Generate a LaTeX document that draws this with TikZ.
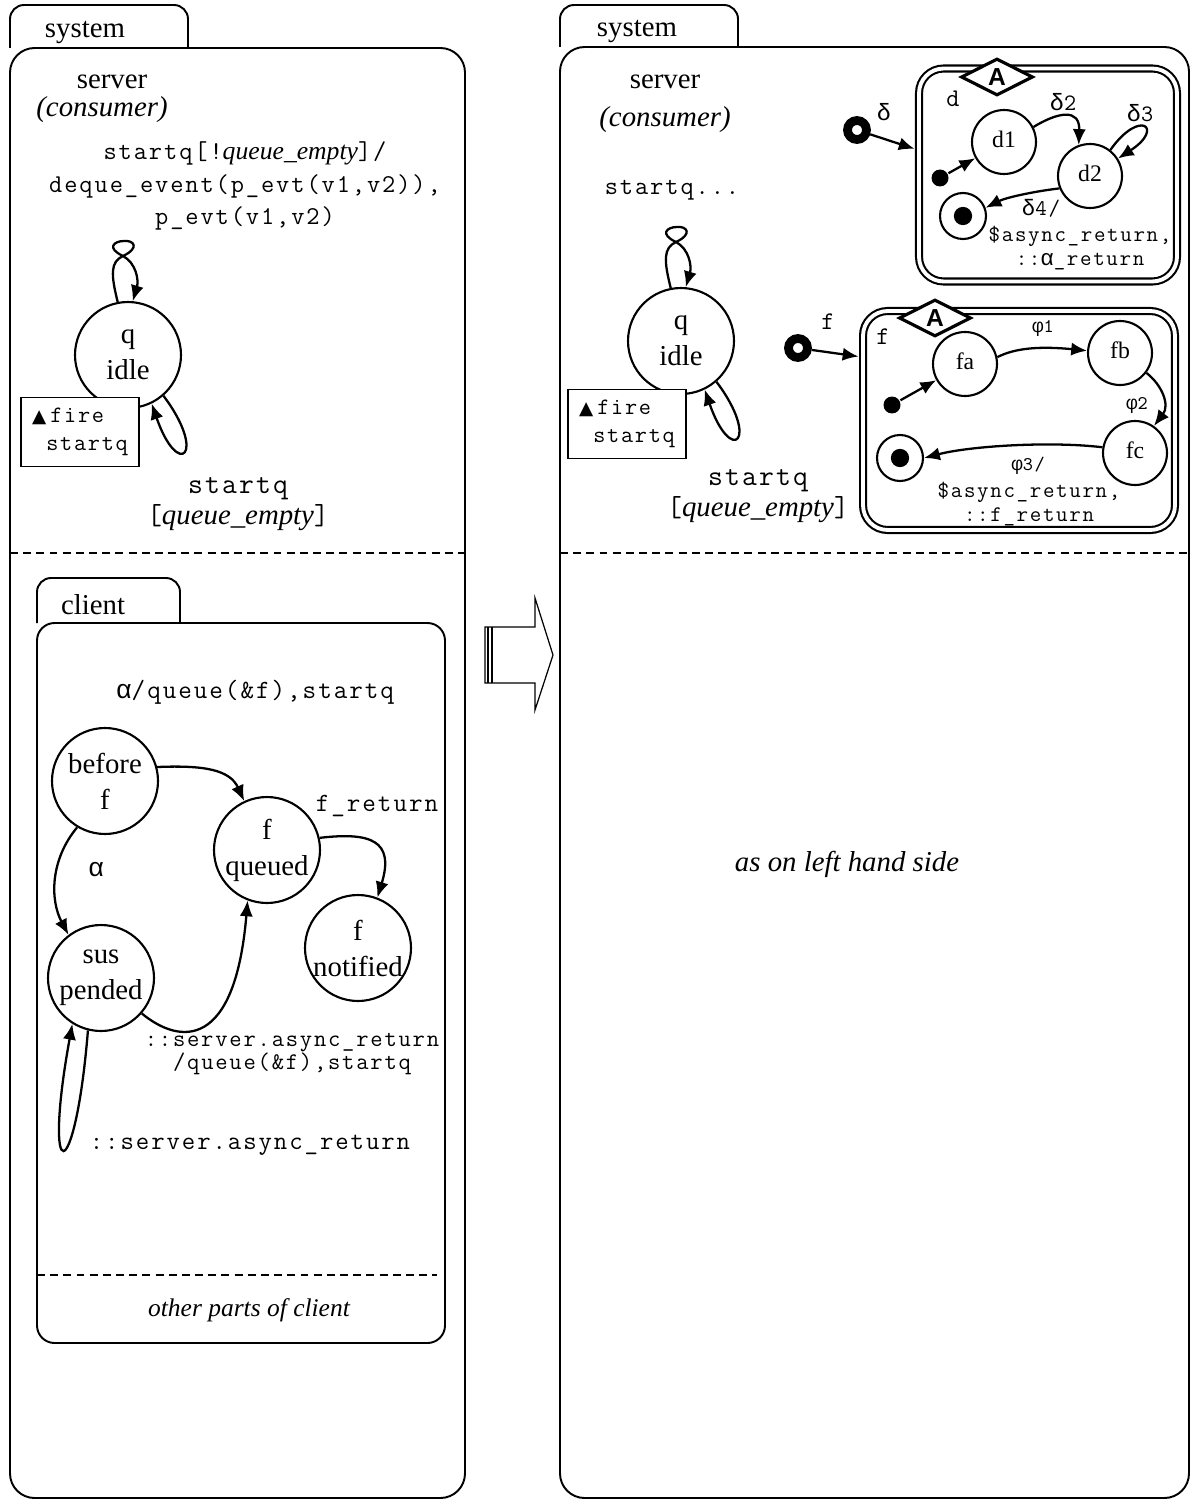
\documentclass[tikz,border=0pt]{standalone}
\usepackage{fontspec}
\setmainfont{Liberation Serif}
\setsansfont{Liberation Sans}
\setmonofont{Latin Modern Mono}[LetterSpace=7.5]
\newfontfamily\symfont{DejaVu Sans}
\newfontfamily\grkmono{Liberation Mono}
\usetikzlibrary{arrows.meta,calc,positioning,shapes.geometric}
\newcommand{\fsz}[2]{\fontsize{#1}{#2}\selectfont}
\newcommand{\uptri}{{\symfont\fsz{10.5}{10.5}▲}}
\newcommand{\guard}[1]{{\rmfamily\itshape #1}}
\newcommand{\gk}[1]{{\grkmono #1}}
\tikzset{>={Latex[length=9pt,width=7.5pt]},
  every node/.style={font=\fsz{16.4}{20.5}},
  frame/.style={draw,line width=1.1pt,rounded corners=14pt},
  tabframe/.style={draw,line width=1.1pt,rounded corners=8pt},
  sep/.style={draw,dash pattern=on 4.5pt off 3pt,line width=.9pt},
  st/.style={circle,draw,line width=1.2pt,minimum size=2.12cm,inner sep=0pt,align=center},
  sst/.style={circle,draw,line width=1.2pt,minimum size=1.28cm,inner sep=0pt,text depth=3pt,font=\fsz{13.5}{15}},
  initdot/.style={circle,fill,minimum size=.34cm,inner sep=0pt},
  finalst/.style={circle,draw,line width=1.2pt,minimum size=.92cm,inner sep=0pt,
    path picture={\fill (path picture bounding box.center) circle (5.2pt);}},
  entryring/.style={circle,draw,line width=5pt,minimum size=.38cm,inner sep=0pt},
  region/.style={draw,double,line width=1.2pt,double distance=2.2pt,rounded corners=14pt,inner sep=0pt},
  tagA/.style={diamond,draw,fill=white,line width=1.8pt,minimum width=1.44cm,
    minimum height=.74cm,inner sep=0pt,font=\sffamily\bfseries\fsz{14}{14}},
  firebox/.style={draw,fill=white,line width=1.1pt,minimum width=2.36cm,minimum height=1.38cm,
    align=left,font=\ttfamily\fsz{13.4}{16}},
  code/.style={font=\ttfamily\fsz{14.6}{18.7},align=center},
  bigcode/.style={font=\ttfamily\fsz{16.4}{18},align=center},
  ccode/.style={font=\ttfamily\fsz{15}{18},align=center},
  scode/.style={font=\ttfamily\fsz{13.6}{13.6},align=center},
  tcode/.style={font=\ttfamily\fsz{12.7}{13.6},align=center},
  phicode/.style={font=\ttfamily\fsz{11}{12},align=center},
  hollow/.style={draw,line width=.7pt}}

\begin{document}
\begin{tikzpicture}[x=0.02cm,y=-0.02cm,line width=1.3pt]
\useasboundingbox (0,0) rectangle (1191,1500);
% left: system
\draw[tabframe] (10,48) -- (10,5) -- (188,5) -- (188,48);
\draw[frame] (10,48) rectangle (465,1498);
\draw[sep] (10,553) -- (465,553);
\node (sysL) at (85,33) {system};
\node (srvL) at (112,82) {server};
\node (consL) at (102,110) {\itshape (consumer)};
\node[code] (trL) at (245,186) {startq[!\guard{queue\_empty}]/\\deque\_event(p\_evt(v1,v2)),\\p\_evt(v1,v2)};
\node[st] (qL) at (128,355) {q\\idle};
\node[firebox] (fireL) at (80,432) {\uptri\,fire\\\hspace*{.6em}startq};
\node[bigcode] (emptyL) at (238,504) {startq\\{[}\guard{queue\_empty}{]}};

% left: client
\draw[tabframe] (37,623) -- (37,578) -- (180,578) -- (180,623);
\draw[frame,rounded corners=10pt] (37,623) rectangle (445,1343);
\draw[sep] (37,1275) -- (437,1275);
\node (client) at (93,605) {client};
\node (other) at (249,1310) {\fsz{14.5}{17}\itshape other parts of client};
\node[st] (bf) at (105,781) {before\\f};
\node[st] (fq) at (267,850) {f\\queued};
\node[st] (fn) at (358,948) {f\\notified};
\node[st] (sp) at (101,978) {sus\\pended};
\draw[->] (bf.15) .. controls (205,765) and (230,770) .. (fq.115);
\draw[->] (bf.-121) .. controls (50,860) and (50,900) .. (sp.127);
\draw[->] (sp.-41) .. controls (180,1045) and (235,1050) .. (fq.-111);
\draw[->] (fq.13) .. controls (370,832) and (395,840) .. (fn.69);
\draw[->] (sp.-104) .. controls (75,1190) and (42,1190) .. (sp.-122);
\node[ccode] (lq) at (255,692) {\gk{α}/queue(\&f),startq};
\node[ccode] (la) at (96,870) {\gk{α}};
\node[ccode] (lret) at (377,806) {f\_return};
\node[scode] (lsq) at (292,1054) {::server.async\_return\\/queue(\&f),startq};
\node[ccode,font=\ttfamily\fsz{14.8}{18}] (lsr) at (250,1145) {::server.async\_return};

% transformation arrow
\draw[hollow] (485,627) -- (535,627) -- (535,598) -- (553,655) -- (535,710)
  -- (535,683) -- (485,683) -- cycle;
\draw[hollow] (488,627) -- (488,683) (492,627) -- (492,683);

% right: system
\draw[tabframe] (560,47) -- (560,5) -- (738,5) -- (738,47);
\draw[frame] (560,47) rectangle (1189,1498);
\draw[sep] (560,553) -- (1189,553);
\node (sysR) at (637,32) {system};
\node (srvR) at (665,82) {server};
\node (consR) at (665,120) {\itshape (consumer)};
\node[code] (trR) at (672,190) {startq...};
\node[st] (qR) at (681,341) {q\\idle};
\node[firebox] (fireR) at (627,424) {\uptri\,fire\\\hspace*{.6em}startq};
\node[bigcode] (emptyR) at (758,496) {startq\\{[}\guard{queue\_empty}{]}};
\node (same) at (847,864) {\itshape as on left hand side};

\foreach \q in {qL,qR}{
\draw[->] (\q.101) .. controls ($(\q)+(-17,-80)$) and ($(\q)+(-18,-93)$) .. ($(\q)+(-5,-99)$)
  .. controls ($(\q)+(12,-107)$) and ($(\q)+(6,-115)$) .. ($(\q)+(-4,-114)$)
  .. controls ($(\q)+(-14,-114)$) and ($(\q)+(-22,-107)$) .. ($(\q)+(-5,-99)$)
  .. controls ($(\q)+(8,-92)$) and ($(\q)+(11,-75)$) .. (\q.85);
\draw[->] (\q.-49) .. controls ($(\q)+(80,100)$) and ($(\q)+(50,125)$) .. (\q.-64);
}

% region d
\node[region,minimum width=5.16cm,minimum height=4.26cm] (dbox) at (1048,175) {};
\node[tagA] (dtag) at (997,77) {A};
\node[code,font=\ttfamily\fsz{14.5}{16}] (dname) at (953,99) {d};
\node[entryring] (dentry) at (857,130) {};
\node[code,font=\ttfamily\fsz{13.4}{16}] (dlbl) at (884,112) {\gk{δ}};
\draw[->,shorten >=2pt] (dentry) -- ($(dbox.west)+(0,-25)$);
\node[sst] (d1) at (1004,142) {d1};
\node[sst] (d2) at (1090,176) {d2};
\node[initdot] (dinit) at (940,178) {};
\node[finalst] (dfin) at (963,216) {};
\draw[->] (dinit) -- (d1);
\draw[->] (d1.27) .. controls (1058,112) and (1080,108) .. (d2.110);
\draw[->] (d2.52) .. controls (1140,108) and (1165,128) .. (d2.32);
\draw[->] (d2.202) .. controls (1030,192) and (1005,198) .. (dfin.20);
\node[code,font=\ttfamily\fsz{13.4}{16}] (dl2) at (1063,102) {\gk{δ}2};
\node[code,font=\ttfamily\fsz{13.4}{16}] (dl3) at (1140,113) {\gk{δ}3};
\node[tcode] (dl4) at (1041,208) {\gk{δ}4/};
\node[tcode] (dret) at (1080,248) {\$async\_return,\\::\gk{α}\_return};

% region f
\node[region,minimum width=6.24cm,minimum height=4.38cm] (fbox) at (1019,420.5) {};
\node[tagA] (ftag) at (935,318) {A};
\node[code,font=\ttfamily\fsz{14.5}{16}] (fname) at (883,337) {f};
\node[entryring] (fentry) at (798,348) {};
\node[code,font=\ttfamily\fsz{14.5}{16}] (flbl) at (828,322) {f};
\draw[->,shorten >=2pt] (fentry) -- ($(fbox.west)+(0,-63.5)$);
\node[sst] (fa) at (965,364) {fa};
\node[sst] (fb) at (1120,353) {fb};
\node[sst] (fc) at (1135,453) {fc};
\node[initdot] (finit) at (892,405) {};
\node[finalst] (ffin) at (900,458) {};
\draw[->] (finit) -- (fa);
\draw[->] (fa.12) .. controls (1015,348) and (1040,346) .. (fb.176);
\draw[->] (fb.-37) .. controls (1162,385) and (1170,405) .. (fc.55);
\draw[->] (fc.170) .. controls (1050,441) and (970,446) .. (ffin.0);
\node[phicode] (fl1) at (1043,328) {\gk{φ}1};
\node[phicode] (fl2) at (1137,405) {\gk{φ}2};
\node[phicode] (fl3) at (1028,466) {\gk{φ}3/};
\node[tcode] (fret) at (1029,504) {\$async\_return,\\::f\_return};
\end{tikzpicture}
\end{document}
